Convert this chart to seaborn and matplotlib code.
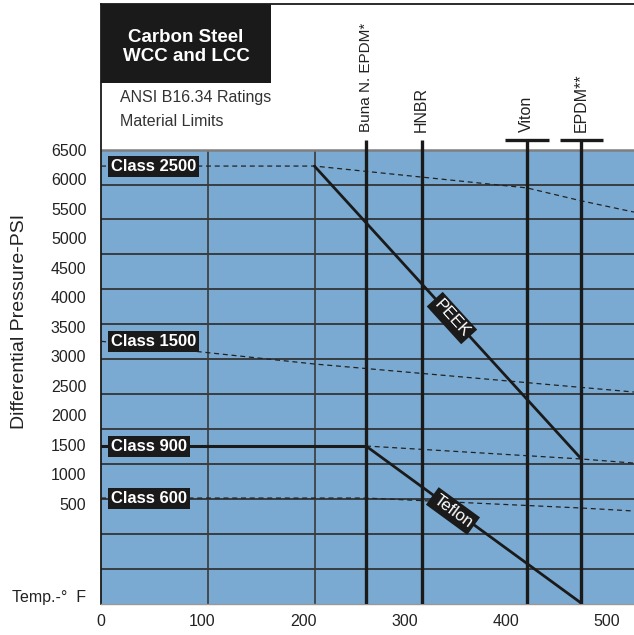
import numpy as np
import pandas as pd
import matplotlib
matplotlib.use("Agg")
import matplotlib.pyplot as plt
from matplotlib.patches import Rectangle
import seaborn as sns

# ANSI class ratings (temp F, pressure PSI)
class2500_t = [0, 211, 421, 475, 527]
class2500_p = [6220, 6220, 5850, 5630, 5440]
class1500_t = [0, 211, 527]
class1500_p = [3250, 2865, 2390]
class900_t = [0, 262]
class900_p = [1475, 1475]
class900_dash_t = [262, 475, 527]
class900_dash_p = [1475, 1255, 1185]
class600_t = [0, 262, 475, 527]
class600_p = [593, 593, 424, 373]

# seat material limits
peek_t = [211, 475]
peek_p = [6220, 1255]
teflon_t = [262, 475]
teflon_p = [1475, -1190]

materials = ["Buna N. EPDM*", "HNBR", "Viton", "EPDM**"]
material_t = [262, 317, 421, 475]
material_cap = [False, False, True, True]

class_labels = ["Class 2500", "Class 1500", "Class 900", "Class 600"]
class_label_p = [6220, 3250, 1475, 593]

yticks = list(range(500, 7000, 500))
xticks = [0, 100, 200, 300, 400, 500]

sns.set_theme(style="white")
plt.rcParams["font.family"] = ["Liberation Sans", "DejaVu Sans"]
plt.rcParams["lines.dashed_pattern"] = [4, 3]

ink = "#1a1a1a"
blue = "#7aaad1"
ymin, ymax, ytop = -1203, 8967, 6500
xmin, xmax = 0, 527

fig = plt.figure(figsize=(6.34, 6.35), dpi=100)
ax = fig.add_axes([101 / 634, 31 / 635, 533 / 634, 600 / 635])
ax.set_xlim(xmin, xmax)
ax.set_ylim(ymin, ymax)

ax.axhspan(ymin, ytop, color=blue, lw=0, zorder=0)
ax.hlines(np.linspace(ymin, ytop, 14)[1:-1], xmin, xmax, color="#2b2b2b", lw=1.2, zorder=1)
ax.vlines(np.linspace(0, 528.5, 6)[1:3], ymin, ytop, color="#3a3a3a", lw=1.2, zorder=1)
ax.hlines(ytop, xmin, xmax, color="#7f7f7f", lw=1.8, zorder=2)

def line(t, p, **kw):
    df = pd.DataFrame({"t": t, "p": p})
    sns.lineplot(data=df, x="t", y="p", ax=ax, sort=False, estimator=None, **kw)

for t, p in [(class2500_t, class2500_p), (class1500_t, class1500_p),
             (class900_dash_t, class900_dash_p), (class600_t, class600_p)]:
    line(t, p, color="#222222", lw=0.9, linestyle="--", zorder=3)
line(class900_t, class900_p, color=ink, lw=2.2, zorder=4)
line(peek_t, peek_p, color=ink, lw=2.0, zorder=4)
line(teflon_t, teflon_p, color=ink, lw=2.0, zorder=4)

# material limit verticals
cap_y = 6660
for name, t, cap in zip(materials, material_t, material_cap):
    ax.vlines(t, ymin, cap_y, color=ink, lw=2.4, zorder=5)
    if cap:
        ax.hlines(cap_y, t - 21.5, t + 21.5, color=ink, lw=2.4, zorder=5)
    ax.text(t, 6800, name, rotation=90, ha="center", va="bottom",
            fontsize=11 if len(name) > 8 else 11.5, color="#222222")

for lab, p in zip(class_labels, class_label_p):
    ax.text(9.5, p, lab, ha="left", va="center", fontsize=12, fontweight="bold",
            color="white", zorder=7,
            bbox=dict(boxstyle="square,pad=0.18", fc=ink, ec="none"))

def slope_angle(t, p):
    a = ax.transData.transform((t[0], p[0]))
    b = ax.transData.transform((t[1], p[1]))
    return np.degrees(np.arctan2(b[1] - a[1], b[0] - a[0]))

for lab, t, p, pos in [("PEEK", peek_t, peek_p, (347, 3644)),
                       ("Teflon", teflon_t, teflon_p, (348, 373))]:
    ax.text(pos[0], pos[1], lab, rotation=slope_angle(t, p), rotation_mode="anchor",
            ha="center", va="center", fontsize=12, color="white", zorder=7,
            bbox=dict(boxstyle="square,pad=0.2", fc=ink, ec="none"))

# title block
ax.add_patch(Rectangle((0, 7628), 168, ymax - 7628, fc=ink, ec="none", zorder=6))
ax.text(84, 8240, "Carbon Steel\nWCC and LCC", ha="center", va="center",
        fontsize=13.5, fontweight="bold", color="white", linespacing=1.2, zorder=7)
ax.text(19, 7390, "ANSI B16.34 Ratings", ha="left", va="center", fontsize=11.5, color="#333333")
ax.text(19, 6983, "Material Limits", ha="left", va="center", fontsize=11.5, color="#333333")

ax.set_xticks(xticks)
ax.set_yticks(yticks)
ax.tick_params(axis="y", length=0, pad=10.5, labelsize=11.5, labelcolor="#222222")
ax.tick_params(axis="x", length=0, pad=7, labelsize=11.5, labelcolor="#222222")
ax.set_xlabel("")
ax.set_ylabel("")
ax.annotate("Temp.-°  F", xy=(0, -1100), xytext=(-10.5, 0), textcoords="offset points",
            ha="right", va="center", fontsize=11.5, color="#222222", annotation_clip=False)
fig.text(20 / 634, 1 - 321 / 635, "Differential Pressure-PSI", rotation=90,
         ha="center", va="center", fontsize=14, color="#222222")

for side in ["left", "top"]:
    ax.spines[side].set_color(ink)
    ax.spines[side].set_linewidth(1.3)
ax.spines["right"].set_visible(False)
ax.spines["bottom"].set_color("#999999")
ax.spines["bottom"].set_linewidth(1.0)

fig.savefig("out.png", dpi=100)
